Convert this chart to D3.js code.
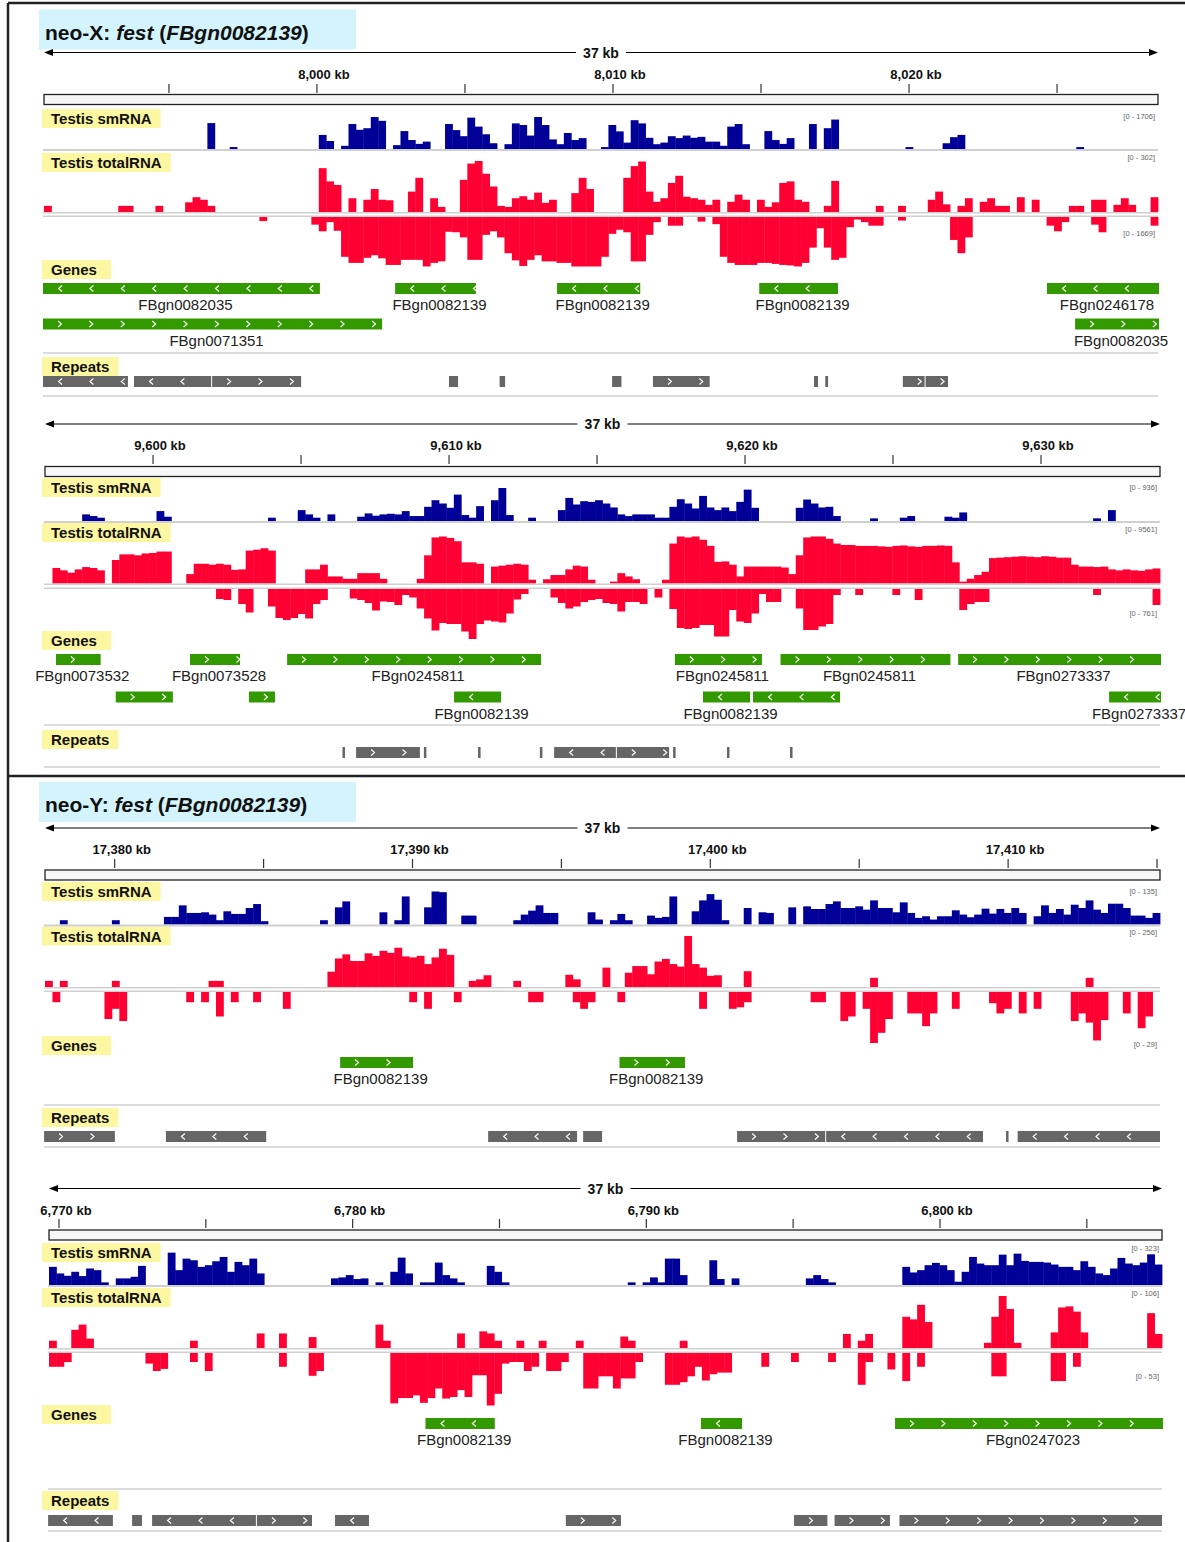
<!DOCTYPE html>
<html>
<head>
<meta charset="utf-8">
<script src="https://cdn.jsdelivr.net/npm/d3@7"></script>
<style>
  body { margin: 0; background: #fff; }
  text { font-family: "Liberation Sans", Arial, sans-serif; }
</style>
</head>
<body>
<div class="canvas"></div>
<script>
// ---- genomic regions shown (kb) ----
const p1Region = [7990.78, 8028.41];
const p2Region = [9596.35, 9634.02];
const p3Region = [17377.66, 17415.10];
const p4Region = [6769.66, 6807.56];

// ---- ruler ticks ----
const p1Ticks = [7995, 8000, 8005, 8010, 8015, 8020, 8025];
const p1TickLabels = ['', '8,000 kb', '', '8,010 kb', '', '8,020 kb', ''];
const p2Ticks = [9600, 9605, 9610, 9615, 9620, 9625, 9630];
const p2TickLabels = ['9,600 kb', '', '9,610 kb', '', '9,620 kb', '', '9,630 kb'];
const p3Ticks = [17380, 17385, 17390, 17395, 17400, 17405, 17410, 17415];
const p3TickLabels = ['17,380 kb', '', '17,390 kb', '', '17,400 kb', '', '17,410 kb', ''];
const p4Ticks = [6770, 6775, 6780, 6785, 6790, 6795, 6800, 6805];
const p4TickLabels = ['6,770 kb', '', '6,780 kb', '', '6,790 kb', '', '6,800 kb', ''];

// ---- data range labels [smRNA, totalRNA +, totalRNA -] ----
const p1Ranges = ['[0 - 1706]', '[0 - 302]', '[0 - 1669]'];
const p2Ranges = ['[0 - 936]', '[0 - 9561]', '[0 - 761]'];
const p3Ranges = ['[0 - 135]', '[0 - 256]', '[0 - 29]'];
const p4Ranges = ['[0 - 323]', '[0 - 106]', '[0 - 53]'];

// ---- coverage, 150 equal bins per region, % of track scale ----
const p1Sm = [
  0,0,0,0,0,0,0,0,0,0, 0,0,0,0,0,0,0,0,0,0, 0,0,81,0,0,6,0,0,0,0,
  0,0,0,0,0,0,0,44,25,0, 10,78,60,65,100,88,0,12,56,28, 16,23,0,0,78,59,40,98,70,46,
  18,0,15,80,75,42,100,75,30,15, 50,28,34,0,0,6,75,55,20,90, 80,35,15,20,40,34,42,35,38,23,
  23,10,70,78,15,0,0,56,28,16, 34,0,0,78,0,65,92,0,0,0, 0,0,0,0,0,0,6,0,0,0,
  0,18,37,44,0,0,0,0,0,0, 0,0,0,0,0,0,0,0,0,6, 0,0,0,0,0,0,0,0,0,0];
const p1TotPlus = [
  12,0,0,0,0,0,0,0,0,0, 12,12,0,0,0,12,0,0,0,19, 29,24,12,0,0,0,0,0,0,0,
  0,0,0,0,0,0,0,86,60,53, 0,27,0,24,45,24,23,0,0,40, 67,0,27,10,0,0,63,95,100,75,
  50,12,10,27,31,24,38,18,24,0, 0,37,67,45,0,0,0,0,67,90, 99,40,20,27,57,71,30,27,24,14,
  24,0,20,34,24,0,24,10,19,57, 60,24,20,0,0,12,61,0,0,0, 0,0,12,0,0,12,0,0,0,24,
  40,15,0,12,27,0,20,27,12,12, 0,29,0,24,0,0,0,0,12,12, 0,24,24,0,14,27,14,0,0,29];
const p1TotMinus = [
  0,0,0,0,0,0,0,0,0,0, 0,0,0,0,0,0,0,0,0,0, 0,0,0,0,0,0,0,0,0,8,
  0,0,0,0,0,0,15,28,10,27, 78,90,90,80,75,81,94,94,84,84, 84,97,90,87,29,30,40,84,84,35,
  28,40,71,85,96,84,75,87,87,90, 90,97,97,97,97,78,33,25,30,87, 87,35,10,0,17,17,0,0,9,0,
  14,78,90,94,94,94,90,90,92,94, 95,97,90,60,22,60,84,80,20,5, 10,17,17,0,0,7,0,0,0,0,
  0,0,45,71,40,0,0,0,0,0, 0,0,0,0,0,17,28,10,0,0, 0,15,30,0,0,0,0,0,0,17];

const p2Sm = [
  0,0,0,0,0,20,15,10,0,0, 0,0,0,0,0,30,13,0,0,0, 0,0,0,0,0,0,0,0,0,0,
  10,0,0,0,33,20,10,0,20,0, 0,0,13,23,16,20,22,20,30,15, 15,43,63,53,40,80,18,10,45,0,
  63,100,18,0,0,10,0,0,0,33, 70,50,60,58,63,53,41,20,15,20, 20,20,10,10,43,66,53,38,76,41,
  33,41,30,58,95,40,0,0,0,0, 0,40,65,53,41,43,15,0,0,0, 0,8,0,0,0,10,15,0,0,0,
  0,13,10,26,0,0,0,0,0,0, 0,0,0,0,0,0,0,0,0,0, 0,8,0,33,0,0,0,0,0,0];
const p2TotPlus = [
  0,33,28,23,30,35,33,28,0,50, 62,62,60,64,65,68,68,0,0,20, 42,42,40,42,40,29,30,70,72,75,
  70,0,0,0,0,30,30,40,15,15, 10,10,22,22,22,10,0,0,0,0, 10,60,98,100,97,90,45,45,42,0,
  36,38,40,42,40,8,0,9,18,18, 30,38,36,8,0,0,4,22,15,9, 0,0,0,8,85,100,98,100,93,80,
  46,47,40,15,36,36,36,36,36,34, 20,60,98,100,100,95,85,82,82,80, 80,80,79,78,80,81,79,78,80,80,
  81,80,45,4,10,18,25,54,55,56, 57,58,57,56,58,57,55,55,40,36, 36,35,36,30,28,30,28,27,30,32];
const p2TotMinus = [
  0,0,0,0,0,0,0,0,0,0, 0,0,0,0,0,0,0,0,0,0, 0,0,0,20,22,0,30,47,0,0,
  35,58,62,58,50,59,30,22,0,0, 0,19,22,28,43,25,26,32,12,17, 39,59,83,68,70,70,85,100,70,63,
  65,67,49,21,10,0,0,0,17,28, 39,35,26,22,20,28,30,45,26,26, 30,0,17,0,40,78,80,78,72,72,
  95,95,42,65,68,49,10,26,26,0, 0,39,82,82,75,70,12,0,0,12, 0,0,0,0,12,0,0,22,0,0,
  0,0,0,42,30,26,26,0,0,0, 0,0,0,0,0,0,0,0,0,0, 0,12,0,0,0,0,0,0,0,32];

const p3Sm = [
  0,0,13,0,0,0,0,0,0,13, 0,0,0,0,0,0,23,23,58,35, 35,37,30,13,40,32,32,50,62,10,
  0,0,0,0,0,0,0,13,0,52, 70,0,0,0,0,37,0,13,85,0, 0,52,100,98,0,0,27,27,0,0,
  0,0,0,13,30,42,58,35,35,0, 0,0,0,37,15,0,13,32,13,0, 0,27,20,23,85,0,0,40,73,92,
  75,13,0,0,50,0,37,35,0,0, 52,0,55,47,47,62,70,50,50,55, 45,73,50,50,37,67,35,20,25,15,
  25,25,43,30,22,30,48,33,47,35, 50,35,0,25,58,35,47,30,60,50, 73,45,35,63,63,50,27,27,20,35];
const p3TotPlus = [
  12,0,12,0,0,0,0,0,0,12, 0,0,0,0,0,0,0,0,0,0, 0,0,12,12,0,0,0,0,0,0,
  0,0,0,0,0,0,0,0,30,56, 64,51,51,66,61,71,67,77,60,58, 61,45,58,75,63,0,0,12,15,23,
  0,0,0,12,0,0,0,0,0,0, 24,15,0,0,0,38,0,0,28,41, 41,25,50,55,45,40,100,45,38,22,
  23,0,0,0,31,0,0,0,0,0, 0,0,0,0,0,0,0,0,0,0, 0,18,0,0,0,0,0,0,0,0,
  0,0,0,0,0,0,0,0,0,0, 0,0,0,0,0,0,0,0,0,0, 18,0,0,0,0,0,0,0,0,0];
const p3TotMinus = [
  0,20,0,0,0,0,0,0,53,33, 57,0,0,0,0,0,0,0,0,20, 0,20,0,48,0,20,0,0,20,0,
  0,0,33,0,0,0,0,0,0,0, 0,0,0,0,0,0,0,0,0,20, 0,33,0,0,0,20,0,0,0,0,
  0,0,0,0,0,20,20,0,0,0, 0,20,33,20,0,0,0,20,0,0, 0,0,0,0,0,0,0,0,33,0,
  0,0,33,30,20,0,0,0,0,0, 0,0,0,20,20,0,0,57,48,0, 33,100,80,53,0,0,42,42,67,42,
  0,0,33,0,0,0,0,22,42,33, 0,42,0,33,0,0,0,0,57,42, 60,95,55,0,0,42,0,71,48,0];

const p4Sm = [
  55,35,28,40,27,50,45,8,0,20, 20,25,58,0,0,0,98,45,80,75, 55,60,72,85,40,70,60,80,35,0,
  0,0,0,0,0,0,0,0,20,23, 30,18,20,0,8,0,40,83,35,0, 8,8,68,30,20,8,0,0,0,58,
  40,8,0,0,0,0,0,0,0,0, 0,0,0,0,0,0,0,0,8,0, 8,23,8,80,80,30,0,0,0,75,
  18,0,20,0,0,0,0,0,0,0, 0,0,20,30,18,8,0,0,0,0, 0,0,0,0,0,55,38,45,60,67,
  60,45,10,40,85,65,60,60,92,60, 95,73,70,70,68,62,55,55,45,72, 55,35,30,50,82,65,60,68,93,62];
const p4TotPlus = [
  14,0,0,35,45,18,0,0,0,0, 0,0,0,0,0,0,0,0,0,14, 0,0,0,0,0,0,0,0,28,0,
  0,28,0,0,0,21,0,0,0,0, 0,0,0,0,45,14,0,0,0,0, 0,0,0,0,0,28,0,0,32,28,
  14,0,0,14,0,0,14,0,0,0, 0,14,0,0,0,0,0,22,14,0, 0,0,0,0,0,14,0,0,0,0,
  0,0,0,0,0,0,0,0,0,0, 0,0,0,0,0,0,0,27,0,14, 27,0,0,0,0,60,55,83,50,0,
  0,0,0,0,0,0,10,60,100,75, 10,0,0,0,0,30,78,80,70,30, 0,0,0,0,0,0,0,0,67,27];
const p4TotMinus = [
  26,26,17,0,0,0,0,0,0,0, 0,0,0,20,34,30,0,0,0,17, 0,34,0,0,0,0,0,0,0,0,
  0,26,0,0,0,43,34,0,0,0, 0,0,0,0,0,0,95,85,85,80, 94,85,67,86,83,70,83,42,42,99,
  77,20,17,17,34,26,0,34,34,17, 0,0,67,67,44,44,67,48,48,17, 0,0,0,60,60,55,44,26,52,40,
  37,37,0,0,0,0,26,0,0,0, 17,0,0,0,0,17,0,0,0,60, 17,0,0,31,0,53,0,26,0,0,
  0,0,0,0,0,0,0,44,44,0, 0,0,0,0,0,53,53,0,26,0, 0,0,0,0,0,0,0,0,0,0];

// ---- gene models (kb), row = display row ----
const p1Genes = [
  { label: 'FBgn0082035', start: 7990.7, end: 8000.10, strand: '-', row: 0 },
  { label: 'FBgn0082139', start: 8002.64, end: 8005.37, strand: '-', row: 0 },
  { label: 'FBgn0082139', start: 8008.11, end: 8010.92, strand: '-', row: 0 },
  { label: 'FBgn0082139', start: 8014.94, end: 8017.60, strand: '-', row: 0 },
  { label: 'FBgn0246178', start: 8024.66, end: 8029.0, strand: '-', row: 0 },
  { label: 'FBgn0071351', start: 7990.7, end: 8002.20, strand: '+', row: 1 },
  { label: 'FBgn0082035', start: 8025.61, end: 8029.0, strand: '+', row: 1 }
];
const p2Genes = [
  { label: 'FBgn0073532', start: 9596.72, end: 9598.23, strand: '+', row: 0 },
  { label: 'FBgn0073528', start: 9601.25, end: 9602.94, strand: '+', row: 0 },
  { label: 'FBgn0245811', start: 9604.53, end: 9613.11, strand: '+', row: 0 },
  { label: 'FBgn0245811', start: 9617.63, end: 9620.57, strand: '+', row: 0 },
  { label: 'FBgn0245811', start: 9621.20, end: 9626.94, strand: '+', row: 0 },
  { label: 'FBgn0273337', start: 9627.20, end: 9634.5, strand: '+', row: 0 },
  { label: '', start: 9598.74, end: 9600.67, strand: '+', row: 1 },
  { label: '', start: 9603.24, end: 9604.12, strand: '+', row: 1 },
  { label: 'FBgn0082139', start: 9610.17, end: 9611.76, strand: '-', row: 1 },
  { label: 'FBgn0082139', start: 9618.58, end: 9620.17, strand: '-', row: 1 },
  { label: '', start: 9620.27, end: 9623.21, strand: '-', row: 1 },
  { label: 'FBgn0273337', start: 9632.30, end: 9634.5, strand: '-', row: 1 }
];
const p3Genes = [
  { label: 'FBgn0082139', start: 17387.57, end: 17390.02, strand: '+', row: 0 },
  { label: 'FBgn0082139', start: 17396.95, end: 17399.15, strand: '+', row: 0 }
];
const p4Genes = [
  { label: 'FBgn0082139', start: 6782.48, end: 6784.84, strand: '-', row: 0 },
  { label: 'FBgn0082139', start: 6791.86, end: 6793.26, strand: '-', row: 0 },
  { label: 'FBgn0247023', start: 6798.47, end: 6808.0, strand: '+', row: 0 }
];

// ---- repeats [start kb, end kb, strand] ----
const p1Repeats = [
  [7990.7, 7993.65, '-'], [7993.82, 7996.46, '-'], [7996.46, 7999.50, '+'],
  [8004.46, 8004.80, ''], [8006.17, 8006.39, ''], [8009.97, 8010.32, ''],
  [8011.35, 8013.30, '+'], [8016.79, 8016.96, ''], [8017.17, 8017.30, ''],
  [8019.79, 8020.56, '+'], [8020.56, 8021.35, '+']
];
const p2Repeats = [
  [9606.40, 9606.49, ''], [9606.86, 9609.05, '+'], [9609.15, 9609.25, ''],
  [9610.98, 9611.10, ''], [9613.07, 9613.16, ''], [9613.55, 9615.67, '-'],
  [9615.67, 9617.47, '+'], [9617.57, 9617.67, ''], [9619.39, 9619.49, ''],
  [9621.52, 9621.60, '']
];
const p3Repeats = [
  [17377.63, 17380.04, '+'], [17381.72, 17385.12, '-'], [17392.54, 17395.56, '-'],
  [17395.73, 17396.40, '+'], [17400.90, 17403.89, '+'], [17403.89, 17409.19, '-'],
  [17409.93, 17410.03, ''], [17410.32, 17415.2, '-']
];
const p4Repeats = [
  [6769.63, 6771.87, '-'], [6772.49, 6772.86, ''], [6773.17, 6776.74, '-'],
  [6776.74, 6778.65, '+'], [6779.40, 6780.59, '-'], [6787.26, 6789.17, '+'],
  [6795.03, 6796.20, '+'], [6796.41, 6798.33, '+'], [6798.62, 6807.7, '+']
];

// ---- colours ----
const smColor = '#000099';
const rnaColor = '#ff0033';
const geneColor = '#339900';
const repColor = '#666666';
const lineGray = '#d0d0d0';

const svg = d3.select('.canvas')
  .append('svg')
    .attr('width', 1185)
    .attr('height', 1542);

// outer frame
const frame = svg.append('g').attr('stroke', '#222').attr('stroke-width', 2.5);
frame.append('line').attr('x1', 8).attr('x2', 1185).attr('y1', 3).attr('y2', 3);
frame.append('line').attr('x1', 8).attr('x2', 8).attr('y1', 3).attr('y2', 1542);
frame.append('line').attr('x1', 8).attr('x2', 1185).attr('y1', 776).attr('y2', 776);

const panels = [
  { title: ['neo-X: ', 'fest', ' (', 'FBgn0082139', ')'], region: p1Region, ticks: p1Ticks, tickLabels: p1TickLabels,
    sm: p1Sm, plus: p1TotPlus, minus: p1TotMinus, genes: p1Genes, repeats: p1Repeats, ranges: p1Ranges,
    L: { x0: 44, x1: 1158, titleY: 9.5, ruler: 52.5, tickText: 79, tick: 84, box: 94.5,
         smLab: 109, smBase: 149, smH: 32, smRange: 116,
         totLab: 153, plusBase: 212, plusH: 51, plusRange: 157, minusBase: 217, minusH: 51, minusRange: 233,
         genesLab: 260, rows: [283, 318.5], sep: 353, repLab: 357, repBar: 376, bottom: 396 } },
  { title: null, region: p2Region, ticks: p2Ticks, tickLabels: p2TickLabels,
    sm: p2Sm, plus: p2TotPlus, minus: p2TotMinus, genes: p2Genes, repeats: p2Repeats, ranges: p2Ranges,
    L: { x0: 45, x1: 1160, ruler: 424, tickText: 450, tick: 455, box: 466.5,
         smLab: 478, smBase: 521, smH: 33, smRange: 487,
         totLab: 523, plusBase: 583.5, plusH: 47, plusRange: 529, minusBase: 589, minusH: 50, minusRange: 613,
         genesLab: 631, rows: [654, 691.5], sep: 725, repLab: 730, repBar: 747, bottom: 767 } },
  { title: ['neo-Y: ', 'fest', ' (', 'FBgn0082139', ')'], region: p3Region, ticks: p3Ticks, tickLabels: p3TickLabels,
    sm: p3Sm, plus: p3TotPlus, minus: p3TotMinus, genes: p3Genes, repeats: p3Repeats, ranges: p3Ranges,
    L: { x0: 45, x1: 1160, titleY: 782, ruler: 828, tickText: 854, tick: 859, box: 870,
         smLab: 882, smBase: 924.5, smH: 33, smRange: 891,
         totLab: 926.5, plusBase: 987, plusH: 51, plusRange: 932, minusBase: 992, minusH: 51, minusRange: 1044,
         genesLab: 1036, rows: [1057], sep: 1105, repLab: 1108, repBar: 1131, bottom: 1147 } },
  { title: null, region: p4Region, ticks: p4Ticks, tickLabels: p4TickLabels,
    sm: p4Sm, plus: p4TotPlus, minus: p4TotMinus, genes: p4Genes, repeats: p4Repeats, ranges: p4Ranges,
    L: { x0: 49, x1: 1162, ruler: 1188.5, tickText: 1215, tick: 1219, box: 1230,
         smLab: 1243, smBase: 1285, smH: 33, smRange: 1248,
         totLab: 1288, plusBase: 1348, plusH: 52, plusRange: 1293, minusBase: 1353, minusH: 53, minusRange: 1376,
         genesLab: 1405, rows: [1418], sep: 1489, repLab: 1491, repBar: 1515, bottom: 1531 } }
];

// yellow track name tag
function trackLabel(g, text, y) {
  const t = g.append('text')
    .attr('x', 51).attr('y', y + 15)
    .attr('font-size', 15).attr('font-weight', 'bold').attr('fill', '#111')
    .text(text);
  const w = t.node().getComputedTextLength();
  g.insert('rect', 'text')
    .attr('x', 42).attr('y', y).attr('width', Math.max(w + 18, 69)).attr('height', 19)
    .attr('fill', '#fdf7a1');
}

// white chevrons along a feature
function chevrons(g, xs, xe, yMid, strand) {
  if (!strand) return;
  const pts = d3.range(xs + 17, xe - 1, 31.4);
  g.selectAll(null).data(pts).enter().append('path')
    .attr('d', cx => strand === '+'
      ? `M${cx - 2},${yMid - 3}L${cx + 1.5},${yMid}L${cx - 2},${yMid + 3}`
      : `M${cx + 2},${yMid - 3}L${cx - 1.5},${yMid}L${cx + 2},${yMid + 3}`)
    .attr('fill', 'none').attr('stroke', '#fff').attr('stroke-width', 1.1);
}

panels.forEach(p => {
  const L = p.L;
  const g = svg.append('g');
  const x = d3.scaleLinear().domain(p.region).range([L.x0, L.x1]);

  // title
  if (p.title) {
    g.append('rect').attr('x', 39).attr('y', L.titleY).attr('width', 317).attr('height', 40).attr('fill', '#d3f4fc');
    const tt = g.append('text').attr('x', 45).attr('y', L.titleY + 30)
      .attr('font-size', 21).attr('font-weight', 'bold').attr('fill', '#111');
    p.title.forEach((s, i) => tt.append('tspan').attr('font-style', i % 2 ? 'italic' : 'normal').text(s));
  }

  // ruler with span label
  const mid = (L.x0 + L.x1) / 2;
  g.append('line').attr('x1', L.x0 + 4).attr('x2', L.x1 - 4).attr('y1', L.ruler).attr('y2', L.ruler)
    .attr('stroke', '#000').attr('stroke-width', 1);
  g.append('path').attr('d', `M${L.x0},${L.ruler}L${L.x0 + 9},${L.ruler - 3.5}L${L.x0 + 9},${L.ruler + 3.5}Z`).attr('fill', '#000');
  g.append('path').attr('d', `M${L.x1},${L.ruler}L${L.x1 - 9},${L.ruler - 3.5}L${L.x1 - 9},${L.ruler + 3.5}Z`).attr('fill', '#000');
  g.append('rect').attr('x', mid - 25).attr('y', L.ruler - 8).attr('width', 50).attr('height', 16).attr('fill', '#fff');
  g.append('text').attr('x', mid).attr('y', L.ruler + 5).attr('text-anchor', 'middle')
    .attr('font-size', 14).attr('font-weight', 'bold').attr('fill', '#111')
    .text(Math.floor(p.region[1] - p.region[0]) + ' kb');

  // ticks
  g.selectAll(null).data(p.ticks).enter().append('line')
    .attr('x1', d => x(d)).attr('x2', d => x(d))
    .attr('y1', L.tick).attr('y2', L.tick + 9)
    .attr('stroke', '#333').attr('stroke-width', 1.2);
  g.selectAll(null).data(p.ticks).enter().append('text')
    .attr('x', d => x(d) + 7).attr('y', L.tickText)
    .attr('text-anchor', 'middle').attr('font-size', 13).attr('font-weight', 'bold').attr('fill', '#111')
    .text((d, i) => p.tickLabels[i]);

  // chromosome box
  g.append('rect').attr('x', L.x0).attr('y', L.box).attr('width', L.x1 - L.x0).attr('height', 10)
    .attr('fill', '#f7f7f7').attr('stroke', '#222').attr('stroke-width', 1.3);

  // coverage bars
  const n = p.sm.length;
  const bw = (p.region[1] - p.region[0]) / n;
  const binX = i => x(p.region[0] + i * bw);
  function coverage(vals, base, H, up, color) {
    const h = d3.scaleLinear().domain([0, 100]).range([0, H]);
    g.selectAll(null)
      .data(vals.map((v, i) => ({ v, i })).filter(o => o.v > 0))
      .enter().append('rect')
        .attr('x', o => binX(o.i))
        .attr('width', o => binX(o.i + 1) - binX(o.i) + 0.4)
        .attr('y', o => up ? base - h(o.v) : base)
        .attr('height', o => h(o.v))
        .attr('fill', color);
  }

  trackLabel(g, 'Testis smRNA', L.smLab);
  coverage(p.sm, L.smBase, L.smH, true, smColor);
  g.append('line').attr('x1', L.x0 - 1).attr('x2', L.x1).attr('y1', L.smBase + 1).attr('y2', L.smBase + 1)
    .attr('stroke', lineGray).attr('stroke-width', 2);

  trackLabel(g, 'Testis totalRNA', L.totLab);
  coverage(p.plus, L.plusBase, L.plusH, true, rnaColor);
  coverage(p.minus, L.minusBase, L.minusH, false, rnaColor);
  g.append('line').attr('x1', L.x0 - 1).attr('x2', L.x1).attr('y1', L.plusBase + 0.7).attr('y2', L.plusBase + 0.7)
    .attr('stroke', lineGray).attr('stroke-width', 1.4);
  g.append('line').attr('x1', L.x0 - 1).attr('x2', L.x1).attr('y1', L.minusBase - 0.7).attr('y2', L.minusBase - 0.7)
    .attr('stroke', lineGray).attr('stroke-width', 1.4);

  // scale range labels
  [L.smRange, L.plusRange, L.minusRange].forEach((y, i) => {
    g.append('text').attr('x', L.x1 - 3).attr('y', y + 2.5).attr('text-anchor', 'end')
      .attr('font-size', 7.5).attr('fill', '#666').text(p.ranges[i]);
  });

  // genes
  trackLabel(g, 'Genes', L.genesLab);
  p.genes.forEach(gn => {
    const xs = Math.max(x(gn.start), L.x0 - 1);
    const xe = Math.min(x(gn.end), L.x1 + 1);
    const y = L.rows[gn.row];
    g.append('rect').attr('x', xs).attr('y', y).attr('width', xe - xs).attr('height', 11).attr('fill', geneColor);
    chevrons(g, xs, xe, y + 5.5, gn.strand);
    if (gn.label) {
      g.append('text').attr('x', (xs + xe) / 2 + 4).attr('y', y + 27)
        .attr('text-anchor', 'middle').attr('font-size', 15).attr('fill', '#222').text(gn.label);
    }
  });

  g.append('line').attr('x1', L.x0 - 1).attr('x2', L.x1).attr('y1', L.sep).attr('y2', L.sep)
    .attr('stroke', lineGray).attr('stroke-width', 1.5);

  // repeats
  trackLabel(g, 'Repeats', L.repLab);
  p.repeats.forEach(r => {
    const xs = Math.max(x(r[0]), L.x0 - 1);
    const xe = Math.min(x(r[1]), L.x1 + 1);
    g.append('rect').attr('x', xs).attr('y', L.repBar).attr('width', Math.max(2.5, xe - xs - 1)).attr('height', 11)
      .attr('fill', repColor);
    if (xe - xs > 20) chevrons(g, xs, xe - 1, L.repBar + 5.5, r[2]);
  });

  g.append('line').attr('x1', L.x0 - 1).attr('x2', L.x1).attr('y1', L.bottom).attr('y2', L.bottom)
    .attr('stroke', lineGray).attr('stroke-width', 1.5);
});
</script>
</body>
</html>
